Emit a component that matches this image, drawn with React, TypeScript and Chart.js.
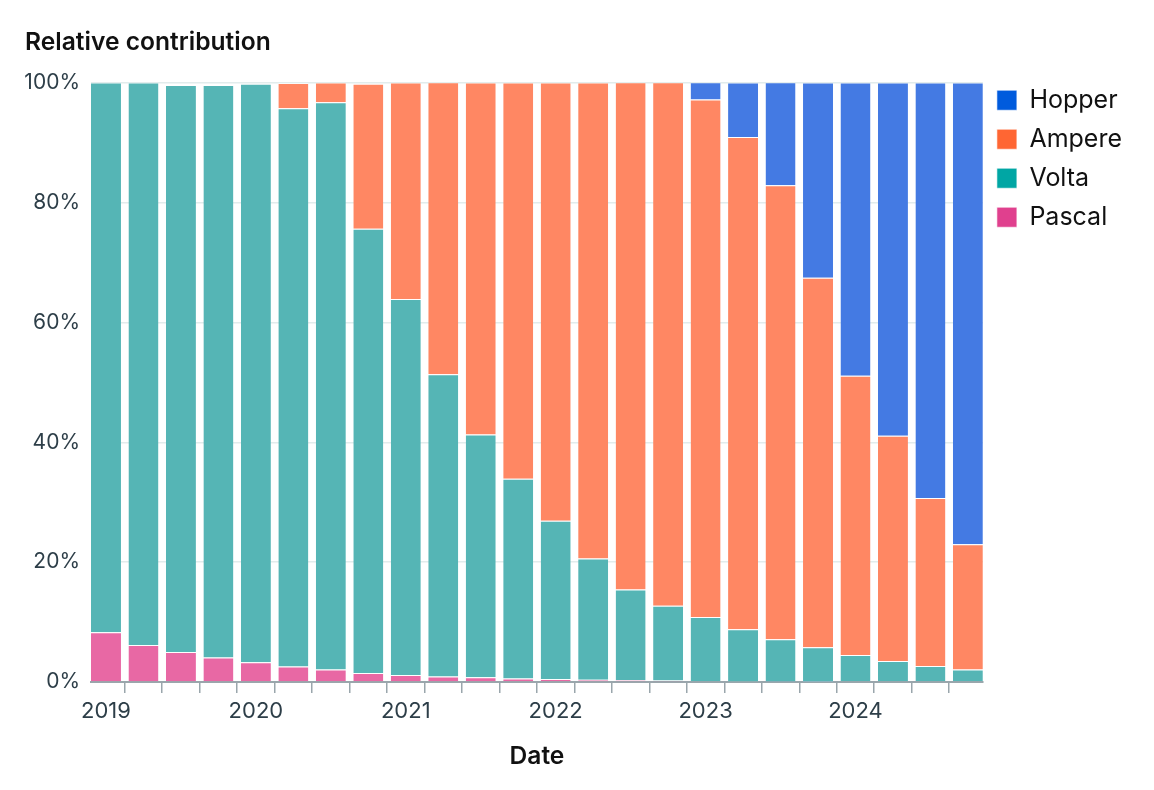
import { useEffect, useRef } from "react";
import { Chart, registerables } from "chart.js";

Chart.register(...registerables);

// quarterly periods, 2019 Q1 .. 2024 Q4
const quarters = [
  "2019 Q1", "2019 Q2", "2019 Q3", "2019 Q4",
  "2020 Q1", "2020 Q2", "2020 Q3", "2020 Q4",
  "2021 Q1", "2021 Q2", "2021 Q3", "2021 Q4",
  "2022 Q1", "2022 Q2", "2022 Q3", "2022 Q4",
  "2023 Q1", "2023 Q2", "2023 Q3", "2023 Q4",
  "2024 Q1", "2024 Q2", "2024 Q3", "2024 Q4",
];

// share of each architecture, in percent
const pascal = [
  8.3, 6.2, 5.0, 4.1, 3.3, 2.6, 2.1, 1.5, 1.2, 0.95, 0.8, 0.6,
  0.5, 0.4, 0.35, 0.25, 0.15, 0.1, 0.05, 0.02, 0, 0, 0, 0,
];
const volta = [
  91.7, 93.8, 94.6, 95.5, 96.5, 93.1, 94.6, 74.1, 62.7, 50.4, 40.5, 33.3,
  26.4, 20.2, 15.1, 12.5, 10.7, 8.7, 7.1, 5.8, 4.5, 3.5, 2.7, 2.1,
];
const ampere = [
  0, 0, 0, 0, 0, 4.2, 3.3, 24.2, 36.1, 48.7, 58.7, 66.1,
  73.1, 79.4, 84.6, 87.3, 86.3, 82.1, 75.7, 61.6, 46.6, 37.6, 28.0, 20.9,
];
const hopper = [
  0, 0, 0, 0, 0, 0, 0, 0, 0, 0, 0, 0,
  0, 0, 0, 0, 2.9, 9.1, 17.2, 32.6, 48.9, 58.9, 69.3, 77.0,
];

const yTicks = [0, 20, 40, 60, 80, 100];

const FONT = "Inter, 'Noto Sans', sans-serif";
const INK = "#2d3e48";
const BAR_FRACTION = 0.8;

const series = [
  { label: "Pascal", data: pascal, bar: "#e868a4", swatch: "#e0408e" },
  { label: "Volta", data: volta, bar: "#55b5b5", swatch: "#00a6a4" },
  { label: "Ampere", data: ampere, bar: "#ff8763", swatch: "#ff6633" },
  { label: "Hopper", data: hopper, bar: "#447ae3", swatch: "#005bdd" },
];

const RelativeContributionChart = () => {
  const chartRef = useRef<HTMLCanvasElement | null>(null);
  const chartInstanceRef = useRef<Chart | null>(null);

  useEffect(() => {
    if (!chartRef.current) return;
    const ctx = chartRef.current.getContext("2d");
    if (!ctx) return;

    if (chartInstanceRef.current) {
      chartInstanceRef.current.destroy();
    }

    chartInstanceRef.current = new Chart(ctx, {
      type: "bar",
      data: {
        datasets: series.map((s) => ({
          label: s.label,
          data: s.data.map((v, i) => ({ x: i, y: v })),
          backgroundColor: s.bar,
          borderColor: "rgba(255,255,255,0.55)",
          borderWidth: { top: 1, left: 0, right: 0, bottom: 0 },
          borderSkipped: false as const,
          categoryPercentage: 1,
          barPercentage: BAR_FRACTION,
        })),
      },
      options: {
        animation: false,
        responsive: true,
        maintainAspectRatio: false,
        layout: {
          padding: { top: 28, left: 25, right: 22, bottom: 19 },
        },
        plugins: {
          title: {
            display: true,
            text: "Relative contribution",
            align: "start" as const,
            color: "#111111",
            font: { family: FONT, size: 24.6, weight: 600 },
            padding: { top: 0, bottom: 25 },
          },
          legend: {
            position: "right" as const,
            align: "start" as const,
            fullSize: false,
            reverse: true,
            // empty title only used to pull the first entry up to the plot top
            title: {
              display: true,
              text: "",
              font: { size: 1 },
              padding: { top: -10, bottom: 0 },
            },
            labels: {
              color: "#111111",
              boxWidth: 20,
              boxHeight: 20,
              padding: 14,
              font: { family: FONT, size: 25 },
              generateLabels: (chart) =>
                chart.data.datasets.map((ds, i) => ({
                  text: ds.label as string,
                  fillStyle: series[i].swatch,
                  strokeStyle: "rgba(255,255,255,0.6)",
                  lineWidth: 1,
                  hidden: false,
                  datasetIndex: i,
                  fontColor: "#111111",
                })),
            },
          },
          tooltip: { enabled: false },
        },
        scales: {
          x: {
            type: "linear" as const,
            stacked: true,
            offset: false,
            min: -BAR_FRACTION / 2,
            max: quarters.length - 1 + BAR_FRACTION / 2,
            afterBuildTicks: (axis) => {
              axis.ticks = quarters.map((_q, i) => ({ value: i }));
            },
            grid: {
              display: true,
              drawOnChartArea: false,
              drawTicks: true,
              tickLength: 11,
              color: "#9aa6ac",
              lineWidth: 1.5,
            },
            border: { display: true, color: "#9aa6ac", width: 2 },
            ticks: {
              autoSkip: false,
              maxRotation: 0,
              color: INK,
              padding: 5,
              font: { family: FONT, size: 22 },
              callback: (v) => {
                const q = quarters[Number(v)];
                return q && q.endsWith("Q1") ? q.slice(0, 4) : "";
              },
            },
            title: {
              display: true,
              text: "Date",
              color: "#111111",
              font: { family: FONT, size: 24.6, weight: 600 },
              padding: { top: 12, bottom: 0 },
            },
          },
          y: {
            stacked: true,
            min: 0,
            max: 100,
            afterBuildTicks: (axis) => {
              axis.ticks = yTicks.map((v) => ({ value: v }));
            },
            afterFit: (axis) => {
              axis.width = 66;
            },
            grid: {
              color: "#e2ecec",
              lineWidth: 1.5,
              drawTicks: false,
            },
            border: { display: false },
            ticks: {
              color: INK,
              padding: 11,
              font: { family: FONT, size: 21 },
              callback: (v) => `${v}%`,
            },
          },
        },
      },
    });

    return () => {
      if (chartInstanceRef.current) {
        chartInstanceRef.current.destroy();
        chartInstanceRef.current = null;
      }
    };
  }, []);

  return (
    <div style={{ position: "fixed", left: 0, top: 0, width: 1154, height: 790, background: "#ffffff" }}>
      <canvas ref={chartRef} />
    </div>
  );
};

export default function App() {
  return <RelativeContributionChart />;
}
